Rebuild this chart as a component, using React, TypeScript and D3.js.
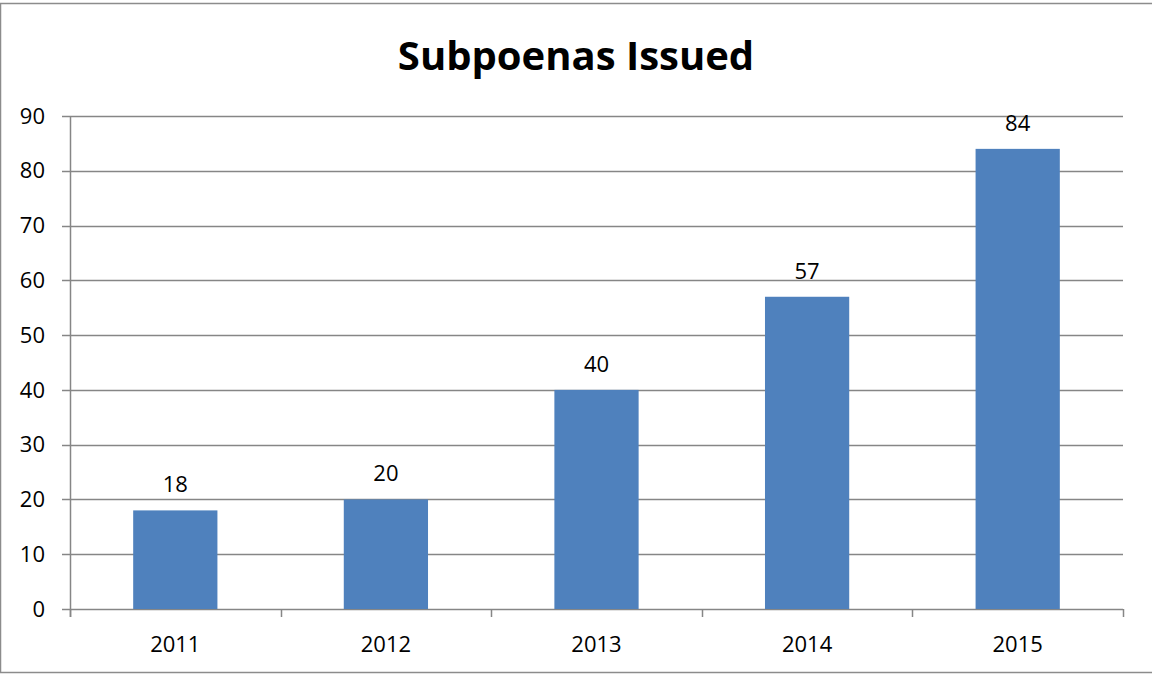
import React, { useRef, useEffect } from 'react';
import * as d3 from 'd3';

const years = ['2011', '2012', '2013', '2014', '2015'];
const subpoenas = [18, 20, 40, 57, 84];
const yTicks = [0, 10, 20, 30, 40, 50, 60, 70, 80, 90];

const App: React.FC = () => {
  const svgRef = useRef<SVGSVGElement>(null);
  const width = 1152;
  const height = 675;
  const plot = { left: 70, right: 1123, top: 116, bottom: 609 };
  const font = '"Open Sans", "Liberation Sans", sans-serif';

  useEffect(() => {
    if (!svgRef.current) return;
    const svg = d3.select(svgRef.current);
    svg.selectAll('*').remove();

    // chart frame
    svg.append('rect')
      .attr('x', 0.5).attr('y', 3.5)
      .attr('width', width + 5).attr('height', 669)
      .attr('fill', '#fff')
      .attr('stroke', '#8c8c8c').attr('stroke-width', 1.5);

    const x = d3.scaleBand().domain(years).range([plot.left, plot.right]).padding(0);
    const y = d3.scaleLinear().domain([0, 90]).range([plot.bottom, plot.top]);

    // gridlines + y ticks
    svg.append('g').selectAll('line').data(yTicks).enter().append('line')
      .attr('x1', plot.left - 8).attr('x2', plot.right)
      .attr('y1', d => Math.round(y(d)) + 0.5).attr('y2', d => Math.round(y(d)) + 0.5)
      .attr('stroke', '#868686').attr('stroke-width', 1.5);

    svg.append('g').selectAll('text').data(yTicks).enter().append('text')
      .attr('x', 45).attr('y', d => y(d))
      .attr('dy', '0.35em')
      .attr('text-anchor', 'end')
      .attr('font-family', font).attr('font-size', 22).attr('fill', '#000')
      .text(d => d);

    // bars
    const barW = x.bandwidth() * 0.4;
    svg.append('g').selectAll('rect').data(subpoenas).enter().append('rect')
      .attr('x', (d, i) => (x(years[i]) || 0) + (x.bandwidth() - barW) / 2)
      .attr('y', d => y(d))
      .attr('width', barW)
      .attr('height', d => plot.bottom - y(d))
      .attr('fill', '#4F81BD');

    // value labels
    svg.append('g').selectAll('text').data(subpoenas).enter().append('text')
      .attr('x', (d, i) => (x(years[i]) || 0) + x.bandwidth() / 2)
      .attr('y', d => y(d) - 18)
      .attr('text-anchor', 'middle')
      .attr('font-family', font).attr('font-size', 22).attr('fill', '#000')
      .text(d => d);

    // axes lines
    svg.append('line')
      .attr('x1', plot.left + 0.5).attr('x2', plot.left + 0.5)
      .attr('y1', plot.top).attr('y2', plot.bottom + 8)
      .attr('stroke', '#868686').attr('stroke-width', 1.5);
    const xTickPos = years.map(yr => x(yr) || 0).concat([plot.right]);
    svg.append('g').selectAll('line').data(xTickPos).enter().append('line')
      .attr('x1', d => Math.round(d) + 0.5).attr('x2', d => Math.round(d) + 0.5)
      .attr('y1', plot.bottom).attr('y2', plot.bottom + 8)
      .attr('stroke', '#868686').attr('stroke-width', 1.5);

    // x labels
    svg.append('g').selectAll('text').data(years).enter().append('text')
      .attr('x', d => (x(d) || 0) + x.bandwidth() / 2)
      .attr('y', 652)
      .attr('text-anchor', 'middle')
      .attr('font-family', font).attr('font-size', 22).attr('fill', '#000')
      .text(d => d);

    // title
    svg.append('text')
      .attr('x', 576).attr('y', 70)
      .attr('text-anchor', 'middle')
      .attr('font-family', font).attr('font-size', 40).attr('font-weight', 700).attr('fill', '#000')
      .text('Subpoenas Issued');
  }, []);

  return (
    <div style={{ position: 'absolute', left: 0, top: 0, width, height, background: '#fff' }}>
      <svg ref={svgRef} width={width} height={height} style={{ display: 'block' }} />
    </div>
  );
};

export default App;
